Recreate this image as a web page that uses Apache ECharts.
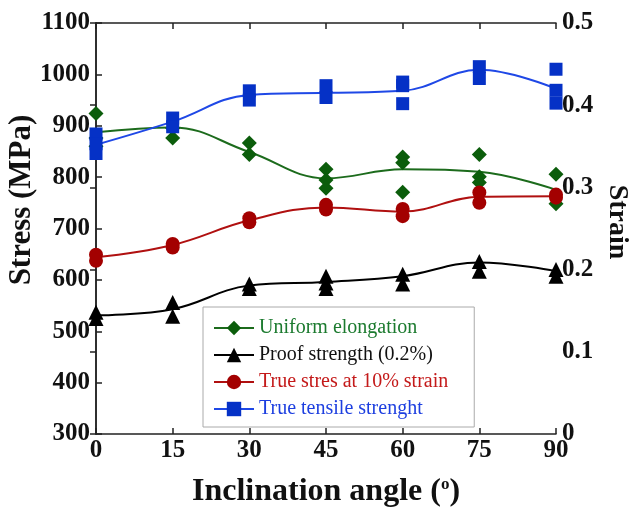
<!DOCTYPE html>
<html>
<head>
<meta charset="utf-8">
<script src="https://cdn.jsdelivr.net/npm/echarts@6/dist/echarts.min.js"></script>
<style>
  html, body { margin: 0; padding: 0; background: #fff; }
  #main { width: 635px; height: 513px; }
</style>
</head>
<body>
<div id="main"></div>
<script>
var chartDom = document.getElementById('main');
var myChart = echarts.init(chartDom);
var option;

const FONT = '"Liberation Serif", "Times New Roman", serif';

// inclination angles (degrees)
const angles = [0, 15, 30, 45, 60, 75, 90];

// fitted curves, one value per angle
const elongFit = [0.367, 0.373, 0.343, 0.311, 0.322, 0.319, 0.297];
const proofFit = [531, 543, 589, 596, 607, 634, 617];
const stressFit = [644, 668, 716, 741, 733, 762, 763];
const tensileFit = [863, 908, 960, 964, 968, 1009, 972];

// measured replicates at each angle
const elongReps = [[0.390, 0.360, 0.350], [0.372, 0.360], [0.354, 0.340], [0.322, 0.309, 0.299], [0.337, 0.330, 0.294], [0.340, 0.313, 0.306], [0.316, 0.280]];
const proofReps = [[537, 525], [556, 529], [592, 583], [607, 594, 583], [611, 592], [636, 617], [620, 607]];
const stressReps = [[649, 637], [670, 663], [720, 712], [746, 737], [738, 724], [770, 750], [766, 760]];
const tensileReps = [[884, 865, 846], [915, 898], [968, 950], [978, 955], [985, 978, 943], [1015, 992], [1010, 969, 944]];

const names = ['Uniform elongation', 'Proof strength (0.2%)', 'True stres at 10% strain', 'True tensile strenght'];

function pairs(values) {
  return values.map((v, i) => [angles[i], v]);
}

function repPairs(reps) {
  let out = [];
  reps.forEach((list, i) => {
    list.forEach(v => out.push([angles[i], v]));
  });
  return out;
}

const styles = [
  { symbol: 'diamond', size: 15, mark: '#0b5d0b', line: '#1c6b1c', text: '#1b7a2e', yAxis: 1, fit: elongFit, reps: elongReps },
  { symbol: 'triangle', size: 15, mark: '#000000', line: '#000000', text: '#111111', yAxis: 0, fit: proofFit, reps: proofReps },
  { symbol: 'circle', size: 14, mark: '#a30000', line: '#b01010', text: '#c41a1a', yAxis: 0, fit: stressFit, reps: stressReps },
  { symbol: 'rect', size: 13, mark: '#0531c6', line: '#1f48e6', text: '#1d3fe0', yAxis: 0, fit: tensileFit, reps: tensileReps }
];

function getSeries() {
  let lines = styles.map((s, i) => ({
    name: names[i],
    type: 'line',
    yAxisIndex: s.yAxis,
    data: pairs(s.fit),
    smooth: 0.4,
    symbol: s.symbol,
    symbolSize: s.size,
    showSymbol: false,
    lineStyle: { color: s.line, width: 2 },
    itemStyle: { color: s.mark },
    z: 2
  }));
  let marks = styles.map((s, i) => ({
    name: names[i],
    type: 'scatter',
    yAxisIndex: s.yAxis,
    data: repPairs(s.reps),
    symbol: s.symbol,
    symbolSize: s.size,
    itemStyle: { color: s.mark, opacity: 1 },
    z: 3
  }));
  return lines.concat(marks);
}

const tickLabel = { fontFamily: FONT, fontWeight: 'bold', fontSize: 25, color: '#111' };
const axisLine = { show: true, lineStyle: { color: '#222', width: 1.5 } };
const axisTick = { show: true, inside: true, length: 6, lineStyle: { color: '#222', width: 1.5 } };

option = {
  animation: false,
  grid: { left: 96, right: 79, top: 23, bottom: 78 },
  legend: {
    orient: 'vertical',
    left: 203,
    top: 307,
    padding: [11, 26, 8, 10],
    itemWidth: 40,
    itemHeight: 18,
    itemGap: 7,
    backgroundColor: '#fff',
    borderColor: '#aaa',
    borderWidth: 1,
    textStyle: { fontFamily: FONT, fontSize: 20 },
    data: names.map((n, i) => ({ name: n, textStyle: { color: styles[i].text } }))
  },
  xAxis: [
    {
      type: 'value',
      min: 0,
      max: 90,
      interval: 15,
      axisLine: axisLine,
      axisTick: axisTick,
      splitLine: { show: false },
      axisLabel: Object.assign({ margin: 4 }, tickLabel),
      name: 'Inclination angle ({sup|o})',
      nameLocation: 'middle',
      nameGap: 42,
      nameTextStyle: {
        fontFamily: FONT, fontWeight: 'bold', fontSize: 32, color: '#111',
        rich: { sup: { fontFamily: FONT, fontWeight: 'bold', fontSize: 17, verticalAlign: 'top', color: '#111' } }
      }
    },
    {
      type: 'value',
      position: 'top',
      min: 0,
      max: 90,
      interval: 15,
      axisLine: axisLine,
      axisTick: axisTick,
      splitLine: { show: false },
      axisLabel: { show: false }
    }
  ],
  yAxis: [
    {
      type: 'value',
      min: 300,
      max: 1100,
      interval: 100,
      axisLine: axisLine,
      axisTick: axisTick,
      splitLine: { show: false },
      axisLabel: Object.assign({ margin: 6, formatter: v => String(v) }, tickLabel)
    },
    {
      type: 'value',
      position: 'right',
      min: 0,
      max: 0.5,
      interval: 0.1,
      axisLine: axisLine,
      axisTick: axisTick,
      splitLine: { show: false },
      axisLabel: Object.assign({ margin: 6, formatter: v => (v === 0 ? '0' : v.toFixed(1)) }, tickLabel)
    }
  ],
  graphic: [
    {
      type: 'text',
      x: 22,
      y: 200,
      rotation: Math.PI / 2,
      style: { text: 'Stress (MPa)', font: 'bold 31px ' + FONT, fill: '#111', align: 'center', verticalAlign: 'middle' }
    },
    {
      type: 'text',
      x: 617,
      y: 222,
      rotation: -Math.PI / 2,
      style: { text: 'Strain', font: 'bold 28px ' + FONT, fill: '#111', align: 'center', verticalAlign: 'middle' }
    }
  ],
  series: getSeries()
};

option && myChart.setOption(option);
</script>
</body>
</html>
